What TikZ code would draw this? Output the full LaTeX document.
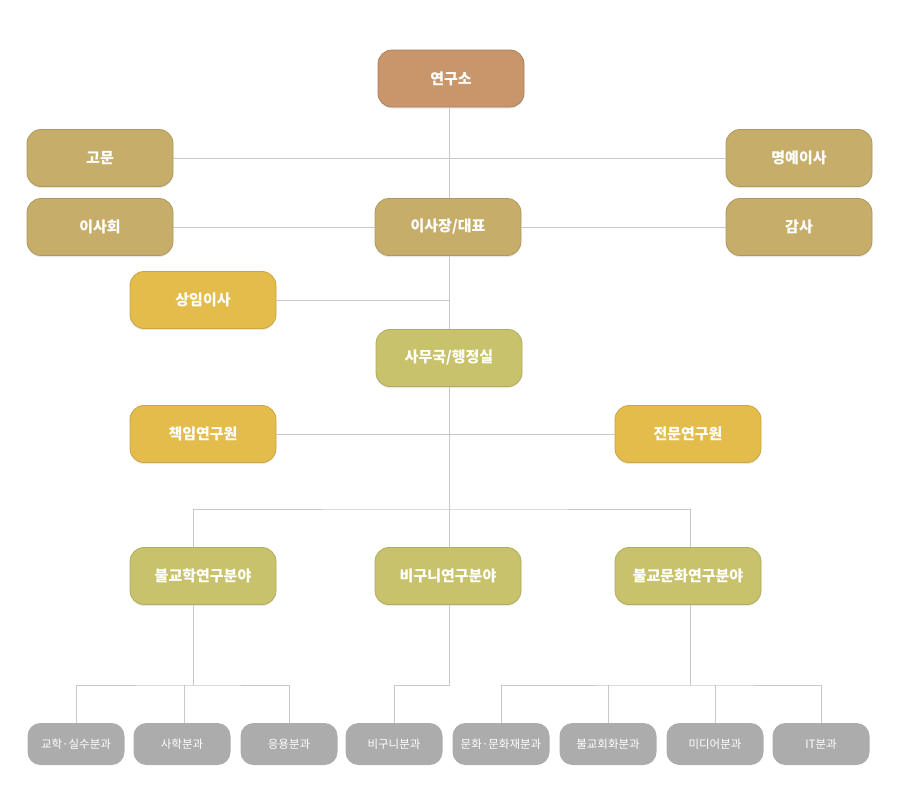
\documentclass[tikz,border=0pt]{standalone}
\usepackage{fontspec}
\newfontfamily\kr{Noto Sans CJK KR}
\usetikzlibrary{shadows}

\definecolor{topcol}{RGB}{200,150,106}
\definecolor{boardcol}{RGB}{198,174,106}
\definecolor{yellowcol}{RGB}{228,188,76}
\definecolor{olivecol}{RGB}{200,194,108}
\definecolor{graycol}{RGB}{172,172,172}
\definecolor{linecol}{RGB}{200,200,200}

\begin{document}
\begin{tikzpicture}[x=1pt, y=-1pt,
  orgbox/.style={rectangle, rounded corners=14pt, minimum width=146pt,
    minimum height=57pt, inner sep=0pt, text=white, line width=0.8pt,
    font={\kr\bfseries\fontsize{15}{15}\selectfont},
    drop shadow={opacity=0.18, shadow xshift=0pt, shadow yshift=-1.5pt}},
  topbox/.style={orgbox, fill=topcol, draw=topcol!85!black},
  boardbox/.style={orgbox, fill=boardcol, draw=boardcol!88!black},
  yellowbox/.style={orgbox, fill=yellowcol, draw=yellowcol!88!black},
  olivebox/.style={orgbox, fill=olivecol, draw=olivecol!88!black},
  subbox/.style={rectangle, rounded corners=13pt, minimum width=97pt,
    minimum height=42pt, inner sep=0pt, fill=graycol, text=white,
    font={\kr\fontsize{11.5}{11.5}\selectfont}},
  link/.style={draw=linecol, line width=0.8pt}]

\useasboundingbox (0,0) rectangle (900,811);

% top levels
\node [topbox] (yeonguso) at (451,78.5) {연구소};

\node [boardbox] (gomun) at (100,158) {고문};
\node [boardbox] (myeongye) at (799,158) {명예이사};
\node [boardbox] (isahoe) at (100,227) {이사회};
\node [boardbox] (isajang) at (448,227) {이사장/대표};
\node [boardbox] (gamsa) at (799,227) {감사};

\node [yellowbox] (sangim) at (203,300) {상임이사};
\node [olivebox] (samuguk) at (449,358) {사무국/행정실};

\node [yellowbox] (chaegim) at (203,434) {책임연구원};
\node [yellowbox] (jeonmun) at (688,434) {전문연구원};

% research fields
\node [olivebox] (bulgyohak) at (203,576) {불교학연구분야};
\node [olivebox] (bigunifield) at (448,576) {비구니연구분야};
\node [olivebox] (bulmunhwa) at (688,576) {불교문화연구분야};

% sections
\node [subbox] (gyohak) at (76,744) {교학·실수분과};
\node [subbox] (sahak) at (182,744) {사학분과};
\node [subbox] (eungyong) at (289,744) {응용분과};
\node [subbox] (bigunibun) at (394,744) {비구니분과};
\node [subbox] (munhwa) at (501,744) {문화·문화재분과};
\node [subbox] (hoehwa) at (608,744) {불교회화분과};
\node [subbox] (media) at (715,744) {미디어분과};
\node [subbox] (itbun) at (821,744) {IT분과};

\coordinate (trunk) at (449,0);
\coordinate (bar1) at (449,509);
\coordinate (j1) at (193,685);
\coordinate (j2) at (449,685);
\coordinate (j3) at (690,685);

%\draw (yeonguso) -- (samuguk);

\begin{scope}[on background layer/.try]
\path [link] (yeonguso.south -| trunk) -- (isajang.north -| trunk);
\path [link] (gomun) -- (myeongye);
\path [link] (isahoe) -- (isajang);
\path [link] (isajang) -- (gamsa);
\path [link] (isajang.south -| trunk) -- (samuguk.north -| trunk);
\path [link] (sangim.east) -- (sangim.east -| trunk);
\path [link] (chaegim) -- (jeonmun);
\path [link] (samuguk.south -| trunk) -- (bigunifield.north -| trunk);

\path [link] (bulgyohak.north -| j1) |- (bar1) -| (bulmunhwa.north -| j3);

\path [link] (bulgyohak.south -| j1) -- (j1);
\path [link] (gyohak) |- (j1) -| (eungyong);
\path [link] (sahak.north -| 184,0) -- (184,685);

\path [link] (bigunifield.south -| j2) -- (j2) -| (bigunibun);

\path [link] (bulmunhwa.south -| j3) -- (j3);
\path [link] (munhwa) |- (j3) -| (itbun);
\path [link] (hoehwa) -- (hoehwa |- j3);
\path [link] (media) -- (media |- j3);
\end{scope}

\end{tikzpicture}
\end{document}
